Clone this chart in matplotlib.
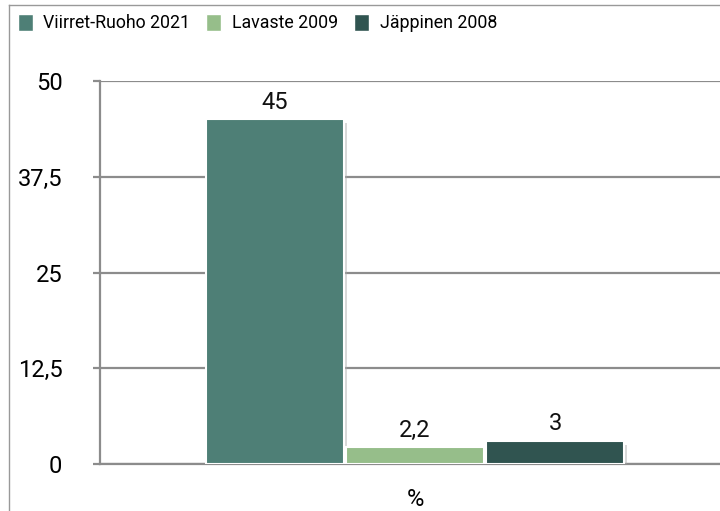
import matplotlib.pyplot as plt
import matplotlib.patheffects as pe
from matplotlib.patches import Rectangle
from matplotlib.lines import Line2D

series = ['Viirret-Ruoho 2021', 'Lavaste 2009', 'Jäppinen 2008']
values = [45, 2.2, 3]
value_labels = ['45', '2,2', '3']
colors = ['#4e7f76', '#96be8a', '#305450']
y_ticks = [0, 12.5, 25, 37.5, 50]
y_tick_labels = ['0', '12,5', '25', '37,5', '50']
category = '%'

plt.rcParams['font.family'] = ['Roboto', 'DejaVu Sans']
grid_col = '#8c8c8c'
fs = 17
fs_leg = 12.8

fig = plt.figure(figsize=(7.2, 5.11), dpi=100)
# axes runs a little past the right edge of the canvas
ax = fig.add_axes([100 / 720, 47 / 511, 630 / 720, 383 / 511])
ax.set_xlim(-2.25, 2.25)
ax.set_ylim(0, 50)

width = 1.0
offsets = [-1, 0, 1]
shadow = [pe.SimplePatchShadow(offset=(2, -3), shadow_rgbFace='#aaaaaa', alpha=0.45), pe.Normal()]
for off, v, lab, c in zip(offsets, values, value_labels, colors):
    b = ax.bar(off * width, v, width=width * 0.985, color=c, edgecolor='white',
               linewidth=1.5, zorder=3)
    for p in b:
        p.set_path_effects(shadow)
    ax.annotate(lab, (off * width, v), xytext=(0, 4), textcoords='offset points',
                ha='center', va='bottom', fontsize=fs, color='#111111')

ax.set_yticks(y_ticks)
ax.set_yticklabels(y_tick_labels, fontsize=fs)
ax.yaxis.grid(True, color=grid_col, linewidth=1.6, zorder=0)
ax.set_axisbelow(True)
ax.tick_params(axis='y', length=5, width=1.6, color=grid_col, pad=22)
ax.set_xticks([0])
ax.set_xticklabels([category], fontsize=fs)
ax.tick_params(axis='x', length=0, pad=17)
for s in ['top', 'right']:
    ax.spines[s].set_visible(False)
ax.spines['left'].set_color(grid_col)
ax.spines['left'].set_linewidth(1.6)
ax.spines['bottom'].set_color(grid_col)
ax.spines['bottom'].set_linewidth(1.6)

# outer chart frame
fig.add_artist(Line2D([9 / 720, 9 / 720], [0, 1 - 5 / 511], color='#999999', linewidth=1.0))
fig.add_artist(Line2D([9 / 720, 1], [1 - 5 / 511, 1 - 5 / 511], color='#999999', linewidth=1.0))

# legend along the top
handles = [Rectangle((0, 0), 1, 1, facecolor=c, edgecolor='white') for c in colors]
fig.legend(handles, series, loc='upper left', bbox_to_anchor=(14 / 720, 1 - 10 / 511),
           ncol=3, frameon=False, fontsize=fs_leg, handlelength=0.85, handleheight=1.15,
           handletextpad=0.6, columnspacing=0.9, borderaxespad=0.0, borderpad=0.2)

fig.savefig('out.png', dpi=100, facecolor='white')
